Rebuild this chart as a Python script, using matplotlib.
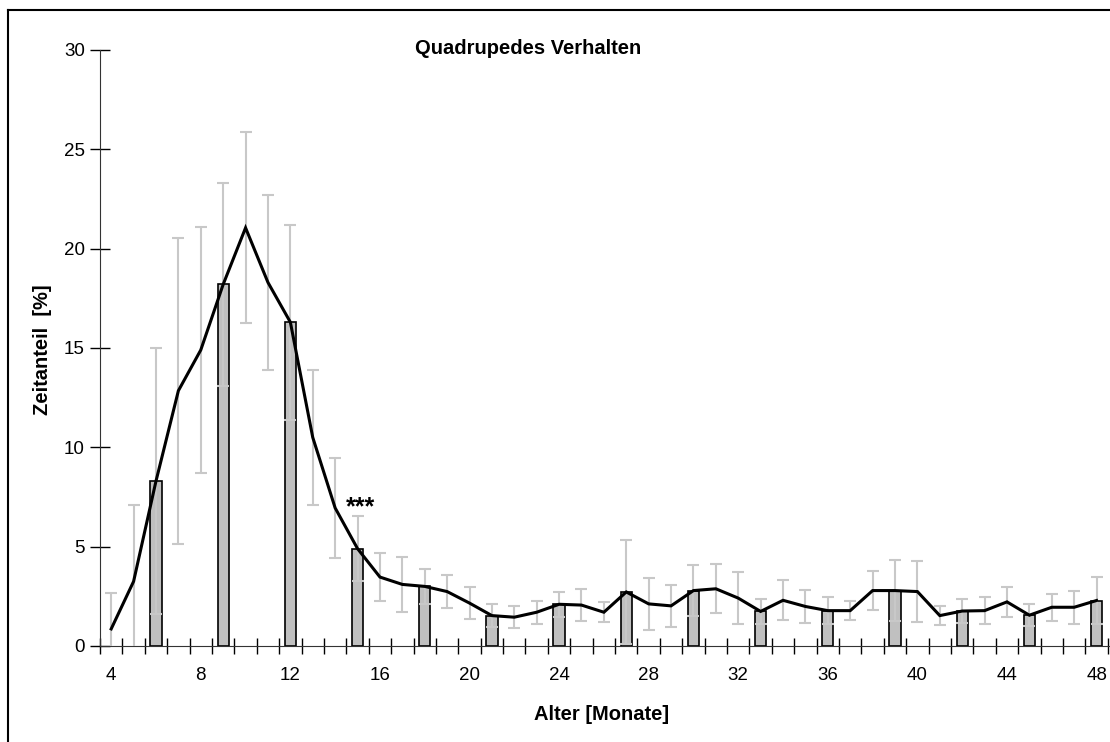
import numpy as np
import matplotlib.pyplot as plt
from matplotlib.lines import Line2D

plt.rcParams['font.family'] = ['Liberation Sans', 'DejaVu Sans']

# months 4..48
months = list(range(4, 49))
mean_pct = [0.86, 3.25, 8.3, 12.85, 14.9, 18.2, 21.05, 18.3, 16.3, 10.5,
            6.95, 4.9, 3.47, 3.1, 3.0, 2.74, 2.16, 1.53, 1.45, 1.7,
            2.1, 2.06, 1.7, 2.72, 2.12, 2.02, 2.79, 2.88, 2.41, 1.74,
            2.3, 1.99, 1.78, 1.78, 2.79, 2.79, 2.74, 1.53, 1.76, 1.78,
            2.22, 1.55, 1.95, 1.95, 2.29]
err_pct = [1.8, 3.85, 6.7, 7.7, 6.2, 5.1, 4.8, 4.4, 4.9, 3.4,
           2.5, 1.65, 1.22, 1.39, 0.9, 0.82, 0.8, 0.59, 0.55, 0.59,
           0.62, 0.82, 0.5, 2.6, 1.32, 1.05, 1.27, 1.24, 1.3, 0.63,
           1.0, 0.85, 0.67, 0.47, 0.98, 1.55, 1.52, 0.46, 0.62, 0.67,
           0.75, 0.55, 0.67, 0.84, 1.18]
bar_months = list(range(6, 49, 3))
tick_labels = [str(m) for m in range(4, 49, 4)]


def main():
    fig = plt.figure(figsize=(11.1, 7.42), dpi=100)
    ax = fig.add_axes([100 / 1110, 1 - 646 / 742, 1010 / 1110, 596 / 742])

    bar_vals = [mean_pct[months.index(m)] for m in bar_months]
    ax.bar(bar_months, bar_vals, width=0.5, color='#c0c0c0',
           edgecolor='black', linewidth=1.2, zorder=2)
    ax.errorbar(months, mean_pct, yerr=err_pct, fmt='none', ecolor='#c8c8c8',
                elinewidth=1.5, capsize=4.5, capthick=1.5, zorder=3)
    ax.plot(months, mean_pct, color='black', linewidth=2.2, zorder=4,
            solid_joinstyle='miter')

    ax.text(15.15, 7.0, '***', fontsize=18, fontweight='bold',
            ha='center', va='center')

    ax.set_xlim(3.5, 48.6)
    ax.set_ylim(0, 30)
    ax.set_yticks(range(0, 31, 5))
    ax.set_xticks(range(4, 49, 4))
    ax.set_xticklabels(tick_labels)
    ax.set_xticks(np.arange(3.5, 49, 1), minor=True)
    ax.tick_params(axis='x', which='major', length=0, pad=15, labelsize=13.5)
    ax.tick_params(axis='x', which='minor', direction='inout', length=12,
                   width=1)
    ax.tick_params(axis='y', direction='inout', length=14, width=1,
                   labelsize=13.5, pad=4)
    for s in ['top', 'right']:
        ax.spines[s].set_visible(False)
    ax.spines['left'].set_color('#333333')
    ax.spines['bottom'].set_color('#333333')

    fig.text(528 / 1110, 1 - 48 / 742, 'Quadrupedes Verhalten', fontsize=14.5,
             fontweight='bold', ha='center', va='center')
    fig.text(42 / 1110, 1 - 350 / 742, 'Zeitanteil  [%]', fontsize=14.5,
             fontweight='bold', ha='center', va='center', rotation=90)
    fig.text(602 / 1110, 1 - 715 / 742, 'Alter [Monate]', fontsize=14.5,
             fontweight='bold', ha='center', va='center')

    # chart area frame (top and left edges visible)
    fig.add_artist(Line2D([8 / 1110, 1.0], [1 - 9.5 / 742] * 2,
                          transform=fig.transFigure, color='black', lw=1.5))
    fig.add_artist(Line2D([8 / 1110] * 2, [0, 1 - 9.5 / 742],
                          transform=fig.transFigure, color='black', lw=1.5))

    fig.savefig('out.png', dpi=100)


if __name__ == '__main__':
    main()
